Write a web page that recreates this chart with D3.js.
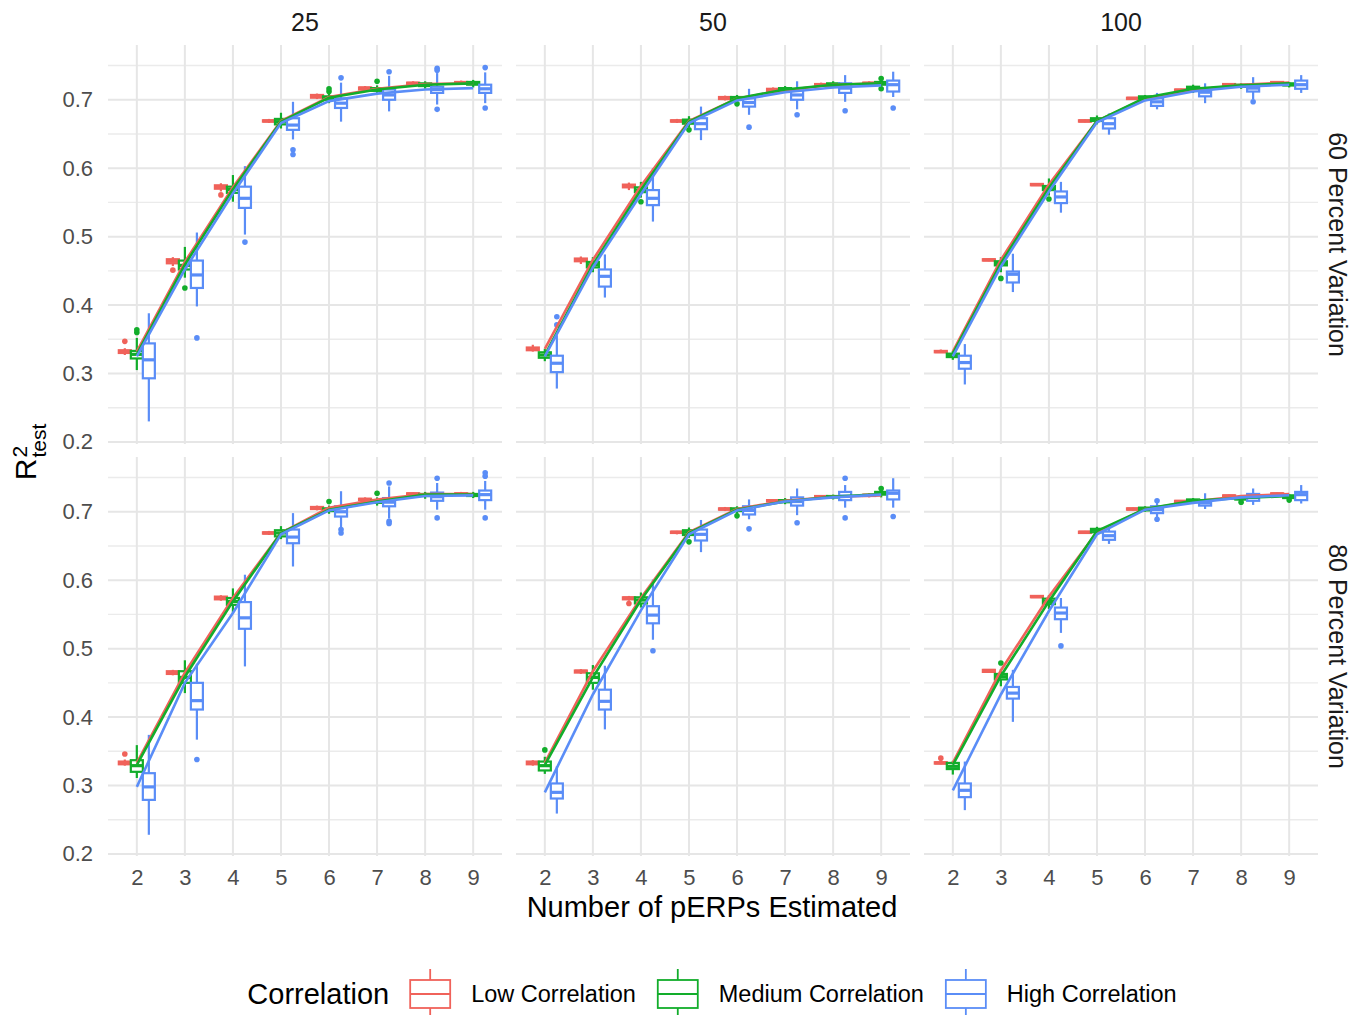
<!DOCTYPE html>
<html>
<head>
<meta charset="utf-8">
<script src="https://cdn.jsdelivr.net/npm/d3@7"></script>
<style>
  body { margin: 0; background: #fff; }
  text { font-family: "Liberation Sans", Arial, sans-serif; }
</style>
</head>
<body>
<div id="chart-area"></div>
<script>

// categories / labels
var xLevels = [2, 3, 4, 5, 6, 7, 8, 9];
var colLabels = ["25", "50", "100"];
var rowLabels = ["60 Percent Variation", "80 Percent Variation"];
var groupLabels = ["Low Correlation", "Medium Correlation", "High Correlation"];
var yTicks = [0.2, 0.3, 0.4, 0.5, 0.6, 0.7];
var yMinor = [0.25, 0.35, 0.45, 0.55, 0.65, 0.75];

// box stats per x level: [lower whisker, q1, median, q3, upper whisker]
// 25 / 60 percent
var box_25_60_low = [[0.327,0.330,0.332,0.334,0.337],[0.457,0.461,0.464,0.467,0.470],[0.566,0.570,0.573,0.575,0.578],[0.666,0.668,0.669,0.670,0.672],[0.701,0.703,0.705,0.707,0.709],[0.713,0.715,0.717,0.718,0.720],[0.721,0.723,0.724,0.725,0.727],[0.722,0.724,0.725,0.726,0.728]];
var box_25_60_med = [[0.305,0.322,0.328,0.333,0.352],[0.440,0.452,0.458,0.465,0.485],[0.551,0.564,0.569,0.573,0.590],[0.658,0.664,0.668,0.672,0.681],[0.695,0.700,0.702,0.705,0.710],[0.708,0.713,0.715,0.717,0.721],[0.716,0.720,0.722,0.724,0.727],[0.718,0.722,0.724,0.726,0.729]];
var box_25_60_high = [[0.230,0.293,0.320,0.344,0.388],[0.398,0.425,0.444,0.465,0.506],[0.503,0.542,0.556,0.573,0.603],[0.642,0.656,0.663,0.673,0.697],[0.668,0.688,0.695,0.702,0.725],[0.683,0.700,0.707,0.715,0.735],[0.693,0.710,0.715,0.719,0.739],[0.695,0.710,0.716,0.722,0.740]];
var mean_25_60 = [[0.332,0.463,0.572,0.669,0.704,0.716,0.723,0.724],[0.328,0.459,0.569,0.668,0.703,0.715,0.722,0.724],[0.325,0.452,0.563,0.666,0.698,0.709,0.715,0.717]];
var out_25_60 = [[0,2,0.347],[0,3,0.451],[0,4,0.561],[1,2,0.360],[1,2,0.364],[1,3,0.425],[1,6,0.712],[1,6,0.716],[1,7,0.727],[2,3,0.352],[2,4,0.492],[2,5,0.627],[2,5,0.620],[2,6,0.732],[2,7,0.741],[2,8,0.746],[2,8,0.743],[2,8,0.686],[2,9,0.747],[2,9,0.688]];

// 50 / 60 percent
var box_50_60_low = [[0.332,0.334,0.336,0.338,0.342],[0.460,0.464,0.466,0.468,0.471],[0.568,0.572,0.574,0.576,0.579],[0.666,0.668,0.669,0.670,0.672],[0.699,0.701,0.702,0.704,0.706],[0.711,0.713,0.714,0.716,0.718],[0.719,0.721,0.722,0.723,0.725],[0.721,0.723,0.724,0.725,0.727]];
var box_50_60_med = [[0.318,0.323,0.327,0.331,0.336],[0.448,0.455,0.459,0.463,0.470],[0.557,0.565,0.568,0.572,0.580],[0.660,0.665,0.668,0.671,0.676],[0.697,0.700,0.702,0.704,0.707],[0.710,0.713,0.715,0.717,0.720],[0.717,0.720,0.722,0.724,0.727],[0.719,0.722,0.724,0.726,0.729]];
var box_50_60_high = [[0.278,0.302,0.315,0.326,0.356],[0.411,0.427,0.442,0.452,0.474],[0.522,0.546,0.556,0.568,0.600],[0.641,0.657,0.665,0.673,0.690],[0.678,0.690,0.696,0.702,0.716],[0.686,0.700,0.707,0.714,0.727],[0.697,0.710,0.717,0.724,0.736],[0.704,0.712,0.722,0.728,0.741]];
var mean_50_60 = [[0.336,0.466,0.574,0.669,0.702,0.714,0.722,0.724],[0.327,0.459,0.568,0.668,0.702,0.715,0.722,0.724],[0.325,0.455,0.562,0.666,0.699,0.711,0.718,0.721]];
var out_50_60 = [[1,4,0.551],[1,5,0.656],[1,6,0.694],[1,9,0.731],[1,9,0.716],[2,2,0.383],[2,2,0.371],[2,6,0.660],[2,7,0.678],[2,8,0.684],[2,9,0.688]];

// 100 / 60 percent
var box_100_60_low = [[0.330,0.331,0.332,0.333,0.335],[0.464,0.465,0.466,0.467,0.468],[0.574,0.575,0.576,0.577,0.578],[0.667,0.668,0.669,0.670,0.671],[0.700,0.701,0.702,0.703,0.704],[0.712,0.713,0.714,0.715,0.716],[0.720,0.721,0.722,0.723,0.724],[0.723,0.724,0.725,0.726,0.727]];
var box_100_60_med = [[0.320,0.324,0.326,0.329,0.333],[0.448,0.458,0.461,0.464,0.470],[0.560,0.568,0.571,0.574,0.585],[0.664,0.669,0.671,0.673,0.677],[0.699,0.702,0.703,0.705,0.707],[0.710,0.715,0.717,0.719,0.722],[0.716,0.719,0.720,0.722,0.724],[0.718,0.721,0.722,0.724,0.726]];
var box_100_60_high = [[0.284,0.307,0.316,0.326,0.343],[0.419,0.433,0.445,0.449,0.475],[0.535,0.549,0.558,0.566,0.580],[0.649,0.658,0.665,0.673,0.680],[0.686,0.691,0.697,0.702,0.710],[0.695,0.705,0.711,0.716,0.724],[0.701,0.712,0.717,0.721,0.733],[0.710,0.716,0.722,0.728,0.736]];
var mean_100_60 = [[0.332,0.466,0.576,0.669,0.702,0.714,0.722,0.725],[0.329,0.461,0.571,0.669,0.703,0.716,0.721,0.724],[0.325,0.456,0.566,0.667,0.699,0.712,0.719,0.722]];
var out_100_60 = [[1,3,0.439],[1,4,0.555],[2,8,0.697]];

// 25 / 80 percent
var box_25_80_low = [[0.329,0.331,0.333,0.335,0.338],[0.461,0.463,0.465,0.467,0.469],[0.570,0.572,0.574,0.576,0.578],[0.666,0.668,0.669,0.670,0.672],[0.702,0.704,0.706,0.707,0.709],[0.715,0.717,0.718,0.719,0.721],[0.723,0.725,0.726,0.727,0.728],[0.723,0.725,0.726,0.727,0.729]];
var box_25_80_med = [[0.311,0.320,0.329,0.337,0.359],[0.435,0.450,0.458,0.467,0.483],[0.552,0.564,0.569,0.574,0.588],[0.660,0.664,0.669,0.673,0.679],[0.697,0.701,0.703,0.705,0.709],[0.709,0.713,0.715,0.717,0.721],[0.719,0.723,0.725,0.726,0.729],[0.720,0.723,0.725,0.726,0.729]];
var box_25_80_high = [[0.228,0.279,0.298,0.318,0.374],[0.367,0.411,0.424,0.450,0.478],[0.474,0.529,0.545,0.568,0.608],[0.620,0.654,0.663,0.674,0.698],[0.676,0.693,0.700,0.708,0.730],[0.690,0.708,0.714,0.720,0.737],[0.703,0.716,0.722,0.728,0.742],[0.703,0.717,0.725,0.731,0.745]];
var mean_25_80 = [[0.333,0.465,0.574,0.669,0.706,0.718,0.726,0.726],[0.330,0.459,0.569,0.669,0.703,0.715,0.725,0.725],[0.298,0.450,0.552,0.667,0.702,0.714,0.723,0.724]];
var out_25_80 = [[0,2,0.346],[1,6,0.715],[1,7,0.727],[2,3,0.338],[2,6,0.674],[2,6,0.669],[2,7,0.742],[2,7,0.686],[2,7,0.683],[2,8,0.749],[2,8,0.691],[2,9,0.752],[2,9,0.757],[2,9,0.691]];

// 50 / 80 percent
var box_50_80_low = [[0.329,0.331,0.333,0.335,0.337],[0.463,0.465,0.467,0.468,0.470],[0.570,0.572,0.574,0.575,0.577],[0.667,0.669,0.670,0.671,0.672],[0.701,0.703,0.704,0.705,0.707],[0.713,0.715,0.716,0.717,0.718],[0.719,0.721,0.722,0.723,0.724],[0.721,0.723,0.724,0.725,0.727]];
var box_50_80_med = [[0.317,0.322,0.329,0.335,0.342],[0.440,0.450,0.458,0.464,0.476],[0.560,0.566,0.571,0.575,0.582],[0.662,0.666,0.670,0.673,0.677],[0.697,0.701,0.703,0.705,0.708],[0.711,0.714,0.715,0.717,0.720],[0.718,0.721,0.722,0.723,0.725],[0.721,0.725,0.727,0.729,0.731]];
var box_50_80_high = [[0.259,0.281,0.290,0.303,0.328],[0.382,0.411,0.423,0.440,0.475],[0.513,0.537,0.549,0.562,0.601],[0.641,0.658,0.667,0.674,0.688],[0.689,0.696,0.702,0.708,0.718],[0.695,0.709,0.715,0.721,0.734],[0.706,0.717,0.723,0.729,0.739],[0.706,0.718,0.727,0.731,0.749]];
var mean_50_80 = [[0.333,0.467,0.574,0.670,0.704,0.716,0.722,0.724],[0.330,0.458,0.571,0.669,0.703,0.715,0.722,0.726],[0.290,0.433,0.556,0.667,0.702,0.715,0.721,0.725]];
var out_50_80 = [[0,4,0.566],[1,2,0.352],[1,5,0.656],[1,6,0.694],[1,9,0.734],[2,4,0.497],[2,6,0.675],[2,7,0.684],[2,8,0.749],[2,8,0.691],[2,9,0.693]];

// 100 / 80 percent
var box_100_80_low = [[0.331,0.332,0.333,0.334,0.336],[0.465,0.466,0.468,0.469,0.470],[0.574,0.575,0.576,0.577,0.578],[0.668,0.669,0.670,0.671,0.672],[0.702,0.703,0.704,0.705,0.706],[0.713,0.714,0.715,0.716,0.717],[0.721,0.722,0.723,0.724,0.725],[0.724,0.725,0.726,0.727,0.728]];
var box_100_80_med = [[0.316,0.324,0.328,0.333,0.336],[0.445,0.455,0.459,0.463,0.470],[0.558,0.565,0.569,0.573,0.578],[0.666,0.670,0.673,0.675,0.678],[0.700,0.702,0.704,0.706,0.708],[0.712,0.714,0.716,0.718,0.720],[0.716,0.718,0.719,0.721,0.723],[0.718,0.720,0.722,0.724,0.726]];
var box_100_80_high = [[0.264,0.283,0.293,0.303,0.335],[0.393,0.427,0.435,0.444,0.469],[0.523,0.543,0.552,0.560,0.574],[0.653,0.659,0.665,0.671,0.676],[0.692,0.698,0.703,0.708,0.713],[0.704,0.709,0.713,0.717,0.727],[0.710,0.716,0.721,0.726,0.734],[0.712,0.717,0.725,0.729,0.739]];
var mean_100_80 = [[0.333,0.468,0.576,0.670,0.704,0.715,0.723,0.726],[0.330,0.460,0.569,0.672,0.704,0.716,0.720,0.723],[0.293,0.433,0.555,0.667,0.703,0.713,0.721,0.724]];
var out_100_80 = [[0,2,0.340],[1,3,0.479],[1,8,0.714],[1,9,0.717],[2,4,0.504],[2,6,0.716],[2,6,0.689]];

var panels = [
  { col: 0, row: 0, boxes: [box_25_60_low, box_25_60_med, box_25_60_high], means: mean_25_60, outliers: out_25_60 },
  { col: 1, row: 0, boxes: [box_50_60_low, box_50_60_med, box_50_60_high], means: mean_50_60, outliers: out_50_60 },
  { col: 2, row: 0, boxes: [box_100_60_low, box_100_60_med, box_100_60_high], means: mean_100_60, outliers: out_100_60 },
  { col: 0, row: 1, boxes: [box_25_80_low, box_25_80_med, box_25_80_high], means: mean_25_80, outliers: out_25_80 },
  { col: 1, row: 1, boxes: [box_50_80_low, box_50_80_med, box_50_80_high], means: mean_50_80, outliers: out_50_80 },
  { col: 2, row: 1, boxes: [box_100_80_low, box_100_80_med, box_100_80_high], means: mean_100_80, outliers: out_100_80 }
];

// layout
var width = 1365, height = 1015;
var panelLeft = [108, 516, 924];
var panelTop = [45, 457];
var panelW = 394, panelH = 399;
var dodge = 0.25, boxHalf = 0.125;

var color = d3.scaleOrdinal()
  .domain(groupLabels)
  .range(["#F0625A", "#12AD2B", "#5A8DF7"]);

var svg = d3.select("#chart-area").append("svg")
  .attr("width", width)
  .attr("height", height);

svg.append("rect").attr("width", width).attr("height", height).attr("fill", "#fff");

panels.forEach(function(p) {
  var L = panelLeft[p.col], T = panelTop[p.row];

  var x = d3.scaleLinear().domain([1.4, 9.6]).range([L, L + panelW]);
  var y = d3.scaleLinear().domain([0.197, 0.780]).range([T + panelH, T]);

  var g = svg.append("g");

  // grid
  g.selectAll(".minor").data(yMinor).enter().append("line")
    .attr("x1", L).attr("x2", L + panelW)
    .attr("y1", function(d) { return y(d); })
    .attr("y2", function(d) { return y(d); })
    .attr("stroke", "#ebebeb").attr("stroke-width", 1.4);
  g.selectAll(".major").data(yTicks).enter().append("line")
    .attr("x1", L).attr("x2", L + panelW)
    .attr("y1", function(d) { return y(d); })
    .attr("y2", function(d) { return y(d); })
    .attr("stroke", "#e6e6e6").attr("stroke-width", 2);
  g.selectAll(".vgrid").data(xLevels).enter().append("line")
    .attr("x1", function(d) { return x(d); })
    .attr("x2", function(d) { return x(d); })
    .attr("y1", T).attr("y2", T + panelH)
    .attr("stroke", "#e6e6e6").attr("stroke-width", 2);

  // boxplots
  var hw = x(boxHalf) - x(0);
  groupLabels.forEach(function(grp, gi) {
    var c = color(grp);
    var bg = g.append("g");
    p.boxes[gi].forEach(function(s, i) {
      var cx = x(xLevels[i] + (gi - 1) * dodge);
      bg.append("line")
        .attr("x1", cx).attr("x2", cx)
        .attr("y1", y(s[4])).attr("y2", y(s[3]))
        .attr("stroke", c).attr("stroke-width", 2.2);
      bg.append("line")
        .attr("x1", cx).attr("x2", cx)
        .attr("y1", y(s[1])).attr("y2", y(s[0]))
        .attr("stroke", c).attr("stroke-width", 2.2);
      bg.append("rect")
        .attr("x", cx - hw).attr("width", hw * 2)
        .attr("y", y(s[3])).attr("height", Math.max(0.5, y(s[1]) - y(s[3])))
        .attr("fill", "#fff").attr("stroke", c).attr("stroke-width", 2.2);
      bg.append("line")
        .attr("x1", cx - hw).attr("x2", cx + hw)
        .attr("y1", y(s[2])).attr("y2", y(s[2]))
        .attr("stroke", c).attr("stroke-width", 3.2);
    });
  });

  // outliers
  g.selectAll(".out").data(p.outliers).enter().append("circle")
    .attr("cx", function(d) { return x(d[1] + (d[0] - 1) * dodge); })
    .attr("cy", function(d) { return y(d[2]); })
    .attr("r", 2.8)
    .attr("fill", function(d) { return color(groupLabels[d[0]]); });

  // lines through group means
  var line = d3.line()
    .x(function(d, i) { return x(xLevels[i]); })
    .y(function(d) { return y(d); });
  p.means.forEach(function(m, gi) {
    g.append("path")
      .attr("d", line(m))
      .attr("fill", "none")
      .attr("stroke", color(groupLabels[gi]))
      .attr("stroke-width", 2.6);
  });

  // axes
  if (p.col === 0) {
    var yAxis = svg.append("g")
      .attr("transform", "translate(" + L + ",0)")
      .call(d3.axisLeft(y).tickValues(yTicks).tickFormat(d3.format(".1f")).tickSize(0).tickPadding(15));
    yAxis.select(".domain").remove();
    yAxis.selectAll("text").attr("font-size", "22px").attr("fill", "#4d4d4d")
      .style("font-family", "'Liberation Sans', Arial, sans-serif");
  }
  if (p.row === 1) {
    var xAxis = svg.append("g")
      .attr("transform", "translate(0," + (T + panelH) + ")")
      .call(d3.axisBottom(x).tickValues(xLevels).tickFormat(d3.format("d")).tickSize(0).tickPadding(13));
    xAxis.select(".domain").remove();
    xAxis.selectAll("text").attr("font-size", "22px").attr("fill", "#4d4d4d")
      .style("font-family", "'Liberation Sans', Arial, sans-serif");
  }

  // strips
  if (p.row === 0) {
    svg.append("text")
      .attr("x", L + panelW / 2).attr("y", 31)
      .attr("text-anchor", "middle")
      .attr("font-size", "25px").attr("fill", "#1a1a1a")
      .text(colLabels[p.col]);
  }
  if (p.col === 2) {
    svg.append("text")
      .attr("transform", "translate(1338," + (T + panelH / 2) + ") rotate(90)")
      .attr("text-anchor", "middle")
      .attr("dominant-baseline", "central")
      .attr("font-size", "25px").attr("fill", "#1a1a1a")
      .text(rowLabels[p.row]);
  }
});

// X label
svg.append("text")
  .attr("x", 712).attr("y", 917)
  .attr("text-anchor", "middle")
  .attr("font-size", "29px").attr("fill", "#000")
  .text("Number of pERPs Estimated");

// Y label: R^2_test
var yLab = svg.append("g").attr("transform", "translate(36,452) rotate(-90)");
var rT = yLab.append("text").attr("font-size", "30px").attr("fill", "#000").text("R");
var rW = rT.node().getComputedTextLength();
var supT = yLab.append("text").attr("x", rW + 1).attr("y", -9).attr("font-size", "21px").attr("fill", "#000").text("2");
var subT = yLab.append("text").attr("x", rW + 1).attr("y", 10).attr("font-size", "21px").attr("fill", "#000").text("test");
var totW = rW + 1 + Math.max(subT.node().getComputedTextLength(), supT.node().getComputedTextLength());
yLab.selectAll("text").attr("transform", "translate(" + (-totW / 2) + ",0)");

// legend
var legend = svg.append("g");
var legTitle = legend.append("text")
  .attr("x", 0).attr("y", 1004)
  .attr("font-size", "29px").attr("fill", "#000")
  .text("Correlation");
var cursor = legTitle.node().getComputedTextLength() + 21;
groupLabels.forEach(function(grp, i) {
  var c = color(grp);
  var k = legend.append("g").attr("transform", "translate(" + cursor + ",0)");
  k.append("line").attr("x1", 20).attr("x2", 20).attr("y1", 969).attr("y2", 1015)
    .attr("stroke", c).attr("stroke-width", 1.8);
  k.append("rect").attr("x", 0).attr("y", 980).attr("width", 40).attr("height", 28)
    .attr("fill", "#fff").attr("stroke", c).attr("stroke-width", 1.8);
  k.append("line").attr("x1", 0).attr("x2", 40).attr("y1", 994).attr("y2", 994)
    .attr("stroke", c).attr("stroke-width", 1.8);
  var lt = legend.append("text")
    .attr("x", cursor + 61).attr("y", 1002)
    .attr("font-size", "23.5px").attr("fill", "#000")
    .text(grp);
  cursor += 61 + lt.node().getComputedTextLength() + 22;
});
var legW = cursor - 22;
legend.attr("transform", "translate(" + (712 - legW / 2) + ",0)");

</script>
</body>
</html>
